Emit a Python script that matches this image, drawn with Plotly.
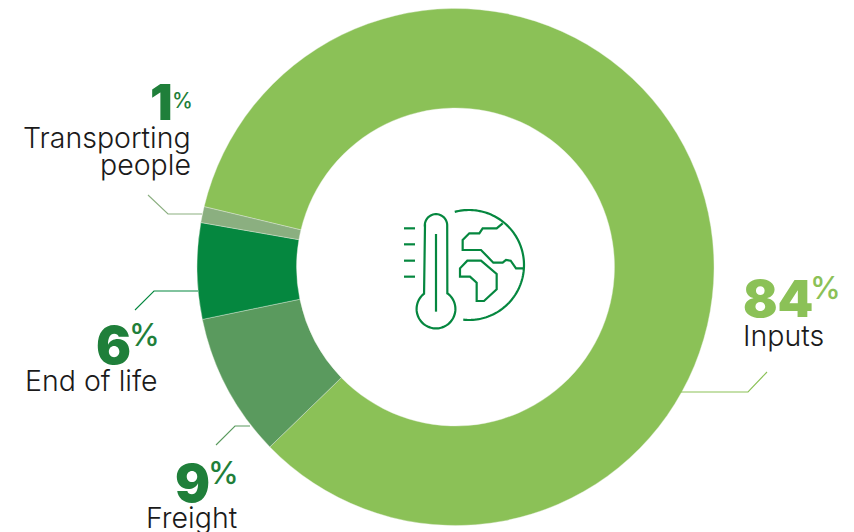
import numpy as np
import plotly.graph_objects as go

W, H = 854, 532

# Life-cycle emission shares
categories = ["Inputs", "Freight", "End of life", "Transporting people"]
shares = [84, 9, 6, 1]
slice_colors = ["#8BC157", "#5A9A5E", "#05873F", "#8BAF80"]
value_colors = ["#8BC157", "#1F7F3A", "#1F7F3A", "#1F7F3A"]


def px(x):
    return x / W


def py(y):
    return 1 - y / H


def line_shape(points, color, width=1.0, close=False):
    d = "M" + " L".join(f"{px(x):.5f},{py(y):.5f}" for x, y in points)
    if close:
        d += " Z"
    return dict(type="path", xref="paper", yref="paper", path=d,
                line=dict(color=color, width=width), layer="above")


def arc(cx, cy, r, start_deg, end_deg, n=80):
    t = np.radians(np.linspace(start_deg, end_deg, n))
    return list(zip(cx + r * np.cos(t), cy + r * np.sin(t)))


# Leader lines from each slice toward its label
leaders = [
    ([(681, 392), (748, 392), (767, 372)], "#8BC157"),
    ([(250, 426), (235, 426), (216, 445)], "#5A9A5E"),
    ([(198, 291), (154, 291), (135, 310)], "#05873F"),
    ([(202, 214), (168, 214), (148, 195)], "#8BAF80"),
]
shapes = [line_shape(p, c, 1.1) for p, c in leaders]

# Thermometer-and-globe emblem in the hole of the ring
ICON = "#05873F"
OX, OY = 380, 190


def z(points):
    return [(OX + x / 3, OY + y / 3) for x, y in points]


bulb_c = z([(168, 357)])[0]
tube_c = z([(168, 106)])[0]
thermo = (
    arc(tube_c[0], tube_c[1], 11.2, 180, 360, 30)
    + [(OX + 202 / 3, OY + 310 / 3)]
    + arc(bulb_c[0], bulb_c[1], 19.4, -52, 232, 70)
    + [(OX + 135 / 3, OY + 106 / 3)]
)
globe_c = z([(267, 225)])[0]
globe = arc(globe_c[0], globe_c[1], 55, -105, 96, 100)
north = z([(368, 100), (350, 115), (308, 115), (298, 130), (268, 130), (248, 150),
           (248, 180), (303, 180), (340, 218), (368, 218), (378, 210), (392, 212),
           (408, 235), (432, 235)])
south = z([(262, 212), (303, 212), (350, 252), (350, 298), (312, 333), (290, 333),
           (290, 278), (270, 260), (240, 260), (240, 235)])

shapes += [line_shape(thermo, ICON, 2.2, close=True),
           line_shape(z([(168, 132), (168, 365)]), ICON, 2.2),
           line_shape(globe, ICON, 2.2),
           line_shape(north, ICON, 2.2),
           line_shape(south, ICON, 2.2, close=True)]
for tick_y in (115, 163, 212, 260):
    shapes.append(line_shape(z([(72, tick_y), (105, tick_y)]), ICON, 2.2))

FONT = "Inter"
TEXT = "#1A1A1A"
NAME_SIZE = 28.5

# Placement of each label: number, percent sign and the lines of its name
label_layout = {
    "Inputs": dict(num_right=815, pct_left=808, num_y=298, pct_y=287, size=51, pct=31,
                   anchor="left", lines=[("Inputs", 741, 335)]),
    "Freight": dict(num_right=212, pct_left=206, num_y=483, pct_y=472.5, size=52, pct=31,
                    anchor="right", lines=[("Freight", 239, 517)]),
    "End of life": dict(num_right=133, pct_left=127, num_y=345, pct_y=334, size=52, pct=31,
                        anchor="right", lines=[("End of life", 160, 380)]),
    "Transporting people": dict(num_right=175, pct_left=170, num_y=102, pct_y=100, size=50, pct=21,
                                anchor="right", lines=[("Transporting", 193, 137), ("people", 193, 164)]),
}

annotations = []
for cat, val, col in zip(categories, shares, value_colors):
    spec = label_layout[cat]
    annotations.append(dict(x=px(spec["num_right"]), y=py(spec["num_y"]), xref="paper", yref="paper",
                            text=f"{val}", showarrow=False, xanchor="right", yanchor="middle",
                            font=dict(family=FONT, size=spec["size"], color=col, weight=900)))
    annotations.append(dict(x=px(spec["pct_left"]), y=py(spec["pct_y"]), xref="paper", yref="paper",
                            text="%", showarrow=False, xanchor="left", yanchor="middle",
                            font=dict(family=FONT, size=spec["pct"], color=col, weight=500)))
    for line, lx, ly in spec["lines"]:
        annotations.append(dict(x=px(lx), y=py(ly), xref="paper", yref="paper",
                                text=line, showarrow=False, xanchor=spec["anchor"], yanchor="middle",
                                font=dict(family=FONT, size=NAME_SIZE, color=TEXT, weight=300)))

fig = go.Figure(go.Pie(
    labels=categories,
    values=shares,
    hole=0.615,
    sort=False,
    direction="clockwise",
    rotation=283.5,
    textinfo="none",
    marker=dict(colors=slice_colors, line=dict(color="#E8F0E0", width=0.4)),
    domain=dict(x=[px(197), px(714)], y=[py(526), py(8)]),
))
fig.update_layout(width=W, height=H, margin=dict(l=0, r=0, t=0, b=0), showlegend=False,
                  paper_bgcolor="white", plot_bgcolor="white",
                  shapes=shapes, annotations=annotations)
fig.write_html("out.html", config=dict(displayModeBar=False))
